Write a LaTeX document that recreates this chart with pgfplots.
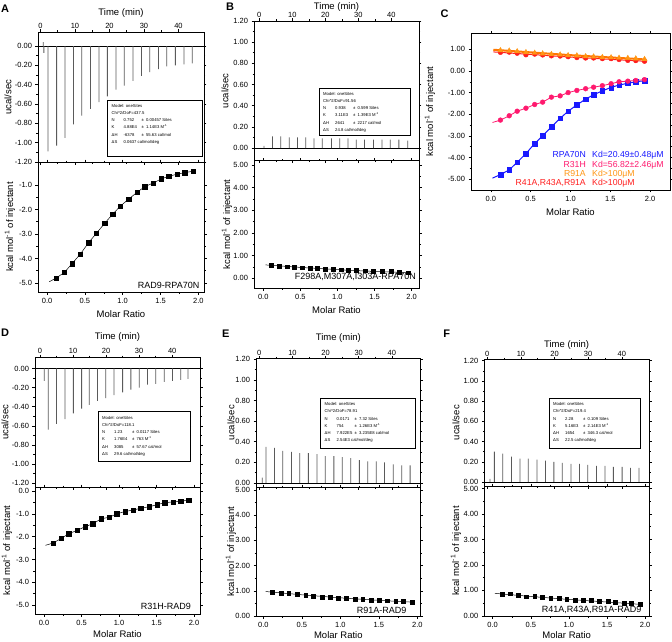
\documentclass[border=0pt]{standalone}
\usepackage{fontspec}
\setmainfont{Liberation Sans}
\usepackage{pgfplots}
\pgfplotsset{compat=1.18}

\definecolor{cblue}{RGB}{25,25,255}
\definecolor{cpink}{RGB}{255,25,110}
\definecolor{corange}{RGB}{255,120,0}
\definecolor{ctri}{RGB}{255,150,20}
\definecolor{cred}{RGB}{255,30,30}
\definecolor{spk}{RGB}{90,90,90}

\pgfplotsset{
 base/.style={scale only axis, anchor=north west, clip=true,
  /pgf/number format/assume math mode=true,
  tick label style={font=\fontsize{7.5}{8}\selectfont},
  yticklabel style={inner ysep=0.5pt},
  label style={font=\fontsize{9.5}{11}\selectfont},
  tick align=outside, major tick length=2.5pt, minor tick length=1.5pt, minor tick num=1,
  axis line style={line width=0.7pt}, tick style={black, line width=0.5pt},
  scaled ticks=false},
 xl/.style={xlabel style={at={(axis description cs:0.5,#1)}, anchor=center}},
 yl/.style={ylabel style={at={(axis description cs:#1,0.5)}, anchor=center}},
 rawtop/.style={base, xtick={0,10,20,30,40}, xticklabel pos=right, xticklabel shift=-3pt, xlabel={Time (min)}, ylabel={ucal/sec},
  yticklabel style={/pgf/number format/fixed, /pgf/number format/fixed zerofill, /pgf/number format/precision=2}},
 intbot/.style={base, xtick={0,0.5,1,1.5,2}, xlabel={Molar Ratio}, ylabel={kcal mol\textsuperscript{-1} of injectant},
  xticklabel style={/pgf/number format/fixed, /pgf/number format/fixed zerofill, /pgf/number format/precision=1}},
 yp1/.style={yticklabel style={/pgf/number format/fixed, /pgf/number format/fixed zerofill, /pgf/number format/precision=1}},
 yp2/.style={yticklabel style={/pgf/number format/fixed, /pgf/number format/fixed zerofill, /pgf/number format/precision=2}},
 spike/.style={ybar, bar width=0.8pt, fill=spk, draw=none},
 baseln/.style={black, line width=0.5pt},
 fitl/.style={black, line width=0.5pt},
 sq/.style={only marks, mark=square*, mark size=2.2pt, black},
}

\newcommand{\fittext}[8]{{\fontsize{4.2}{7.2}\selectfont\setlength{\tabcolsep}{0pt}%
\begin{tabular}{@{}p{12pt}p{18pt}l@{}}
\multicolumn{3}{@{}l@{}}{Model: oneSites}\\
\multicolumn{3}{@{}l@{}}{Chi\textasciicircum 2/DoF=#1}\\
N & #2 & ±\enspace #3 Sites\\
K & #4 & ±\enspace #5 M\textsuperscript{-1}\\
ΔH & #6 & ±\enspace #7 cal/mol\\
ΔS & \multicolumn{2}{@{}l@{}}{#8 cal/mol/deg}
\end{tabular}}}

\begin{document}
\begin{tikzpicture}
\useasboundingbox (0,0) rectangle (672pt,-642pt);

% ================= A =================
\begin{axis}[rawtop, xl=1.144, yl=-0.181, at={(38pt,-32pt)}, width=166pt, height=130pt,
  xmin=-0.7, xmax=47.4, ymin=-1.2, ymax=0.145, ytick={-1.2,-1.0,-0.8,-0.6,-0.4,-0.2,0}]
\addplot[baseln] coordinates {(-1,0) (48,0)};
\addplot[spike] coordinates {(0.8,0.04) (1.0,-0.07) (2.2,-1.09) (4.7,-1.03) (7.1,-0.95) (9.6,-0.81) (12.0,-0.72) (14.5,-0.65) (17.0,-0.58) (19.4,-0.52) (21.9,-0.45) (24.3,-0.41) (26.8,-0.36) (29.3,-0.31) (31.7,-0.27) (34.2,-0.24) (36.6,-0.21) (39.1,-0.20) (41.6,-0.19) (44.0,-0.18)};
\end{axis}
\begin{axis}[intbot, yp1, yl=-0.169, at={(38pt,-162pt)}, width=166pt, height=130pt,
  xmin=-0.12, xmax=2.075, ymin=-5.37, ymax=-0.06, ytick={-5,-4,-3,-2,-1}]
\addplot[fitl] coordinates {(0.03,-4.95) (0.12,-4.80) (0.23,-4.57) (0.33,-4.21) (0.44,-3.82) (0.55,-3.35) (0.65,-2.98) (0.76,-2.57) (0.87,-2.18) (0.97,-1.86) (1.08,-1.57) (1.19,-1.30) (1.29,-1.07) (1.40,-0.92) (1.51,-0.75) (1.61,-0.64) (1.72,-0.56) (1.82,-0.49) (1.93,-0.44)};
\addplot[sq] coordinates {(0.12,-4.80) (0.23,-4.57) (0.33,-4.21) (0.44,-3.82) (0.55,-3.35) (0.65,-2.98) (0.76,-2.57) (0.87,-2.18) (0.97,-1.86) (1.08,-1.57) (1.19,-1.30) (1.29,-1.07) (1.40,-0.92) (1.51,-0.75) (1.61,-0.64) (1.72,-0.56) (1.82,-0.49) (1.93,-0.44)};
\end{axis}
\draw[line width=0.5pt] (107.3pt,-100pt) rectangle (202.3pt,-156.7pt);
\node[anchor=north west, inner sep=0] at (111.5pt,-102pt) {\fittext{437.5}{0.752}{0.00457}{4.88E4}{1.14E3}{-6378}{55.63}{0.0637}};
\node[anchor=east, font=\fontsize{9}{10}\selectfont, inner sep=0] at (199.5pt,-285pt) {RAD9-RPA70N};

% ================= B =================
\begin{axis}[rawtop, xl=1.098, yl=-0.176, at={(254pt,-21pt)}, width=165pt, height=139.7pt,
  xmin=-1.6, xmax=48.4, ymin=-0.12, ymax=1.2, ytick={0,0.2,0.4,0.6,0.8,1.0,1.2}]
\addplot[baseln] coordinates {(-2,0) (49,0)};
\addplot[spike] coordinates {(1.4,0.02) (4.0,0.11) (6.5,0.11) (9.1,0.10) (11.6,0.10) (14.1,0.10) (16.6,0.09) (19.1,0.09) (21.9,0.09) (24.4,0.09) (26.9,0.09) (29.4,0.08) (31.9,0.08) (34.6,0.08) (37.2,0.08) (39.7,0.08) (42.3,0.08) (45.0,0.07)};
\end{axis}
\begin{axis}[intbot, yp2, yl=-0.164, at={(254pt,-160.7pt)}, width=165pt, height=127.3pt,
  xmin=-0.125, xmax=2.1, ymin=-0.43, ymax=5.19, ytick={0,1,2,3,4,5}]
\addplot[fitl] coordinates {(0.03,0.59) (0.5,0.48) (1.0,0.38) (1.5,0.30) (1.93,0.25)};
\addplot[sq, mark size=1.9pt] coordinates {(0.11,0.56) (0.22,0.54) (0.32,0.51) (0.42,0.49) (0.53,0.47) (0.63,0.46) (0.73,0.44) (0.84,0.41) (0.94,0.40) (1.05,0.38) (1.15,0.37) (1.25,0.34) (1.37,0.33) (1.48,0.32) (1.60,0.31) (1.72,0.30) (1.83,0.27) (1.95,0.25)};
\end{axis}
\draw[line width=0.5pt] (319.3pt,-88.3pt) rectangle (410pt,-135pt);
\node[anchor=north west, inner sep=0] at (323pt,-90pt) {\fittext{91.56}{0.938}{0.599}{3.11E3}{1.39E3}{2641}{2217}{24.8}};
\node[anchor=east, font=\fontsize{9}{10}\selectfont, inner sep=0] at (416pt,-276.5pt) {F298A,M307A,I303A-RPA70N};

% ================= C =================
\begin{axis}[base, yl=-0.206, at={(471pt,-33.3pt)}, width=199pt, height=156.7pt,
  xmin=-0.25, xmax=2.25, ymin=-5.5, ymax=1.74, xtick={0,0.5,1,1.5,2}, ytick={-5,-4,-3,-2,-1,0,1},
  xlabel={Molar Ratio}, ylabel={kcal mol\textsuperscript{-1} of injectant},
  xticklabel style={/pgf/number format/fixed, /pgf/number format/fixed zerofill, /pgf/number format/precision=1},
  yticklabel style={/pgf/number format/fixed, /pgf/number format/fixed zerofill, /pgf/number format/precision=2}]
\addplot[cblue, line width=1pt] coordinates {(0.02,-4.95) (0.12,-4.79) (0.23,-4.57) (0.33,-4.22) (0.44,-3.82) (0.55,-3.35) (0.65,-3.0) (0.76,-2.58) (0.87,-2.19) (0.97,-1.86) (1.08,-1.57) (1.19,-1.30) (1.29,-1.10) (1.40,-0.92) (1.51,-0.76) (1.61,-0.65) (1.72,-0.57) (1.82,-0.50) (1.93,-0.45)};
\addplot[only marks, mark=square*, mark size=2.3pt, cblue] coordinates {(0.12,-4.79) (0.23,-4.57) (0.33,-4.22) (0.44,-3.82) (0.55,-3.35) (0.65,-3.0) (0.76,-2.58) (0.87,-2.19) (0.97,-1.86) (1.08,-1.57) (1.19,-1.30) (1.29,-1.10) (1.40,-0.92) (1.51,-0.76) (1.61,-0.65) (1.72,-0.57) (1.82,-0.50) (1.93,-0.45)};
\addplot[cpink, line width=0.8pt] coordinates {(0.02,-2.38) (0.12,-2.27) (0.23,-2.07) (0.33,-1.86) (0.44,-1.72) (0.55,-1.55) (0.65,-1.44) (0.76,-1.21) (0.87,-1.15) (0.97,-1.00) (1.08,-0.90) (1.19,-0.82) (1.29,-0.75) (1.40,-0.68) (1.51,-0.59) (1.61,-0.50) (1.72,-0.47) (1.82,-0.44) (1.93,-0.40)};
\addplot[only marks, mark=*, mark size=2.4pt, cpink] coordinates {(0.12,-2.27) (0.23,-2.07) (0.33,-1.86) (0.44,-1.72) (0.55,-1.55) (0.65,-1.44) (0.76,-1.21) (0.87,-1.15) (0.97,-1.00) (1.08,-0.90) (1.19,-0.82) (1.29,-0.75) (1.40,-0.68) (1.51,-0.59) (1.61,-0.50) (1.72,-0.47) (1.82,-0.44) (1.93,-0.40)};
\addplot[cred, line width=1pt] coordinates {(0.03,0.88) (1.0,0.64) (1.93,0.45)};
\addplot[only marks, mark=*, mark size=2.4pt, cred] coordinates {(0.12,0.86) (0.23,0.87) (0.33,0.82) (0.44,0.75) (0.55,0.78) (0.65,0.74) (0.76,0.70) (0.87,0.69) (0.97,0.66) (1.08,0.62) (1.19,0.60) (1.29,0.60) (1.40,0.57) (1.51,0.57) (1.61,0.53) (1.72,0.49) (1.82,0.48) (1.93,0.45)};
\addplot[corange, line width=2pt] coordinates {(0.03,0.98) (1.0,0.73) (1.95,0.53)};
\addplot[only marks, mark=triangle*, mark size=3pt, ctri] coordinates {(0.12,0.95) (0.23,0.93) (0.33,0.90) (0.44,0.86) (0.55,0.83) (0.65,0.80) (0.76,0.77) (0.87,0.75) (0.97,0.72) (1.08,0.71) (1.19,0.67) (1.29,0.66) (1.40,0.63) (1.51,0.62) (1.61,0.60) (1.72,0.59) (1.82,0.57) (1.93,0.54)};
\end{axis}
\begin{scope}[font=\fontsize{8.7}{10}\selectfont]
\node[anchor=base east, text=cblue, inner sep=0] at (586pt,-157.5pt) {RPA70N};
\node[anchor=base west, text=cblue, inner sep=0] at (592pt,-157.5pt) {Kd=20.49±0.48μM};
\node[anchor=base east, text=cpink, inner sep=0] at (586pt,-167.5pt) {R31H};
\node[anchor=base west, text=cpink, inner sep=0] at (592pt,-167.5pt) {Kd=56.82±2.46μM};
\node[anchor=base east, text=ctri, inner sep=0] at (586pt,-176.8pt) {R91A};
\node[anchor=base west, text=ctri, inner sep=0] at (592pt,-176.8pt) {Kd>100μM};
\node[anchor=base east, text=cred, inner sep=0] at (586pt,-185.8pt) {R41A,R43A,R91A};
\node[anchor=base west, text=cred, inner sep=0] at (592pt,-185.8pt) {Kd>100μM};
\end{scope}

% ================= D =================
\begin{axis}[rawtop, xl=1.156, yl=-0.182, at={(35pt,-357pt)}, width=165pt, height=130pt,
  xmin=-1.5, xmax=48.4, ymin=-1.24, ymax=0.12, ytick={-1.2,-1.0,-0.8,-0.6,-0.4,-0.2,0}]
\addplot[baseln] coordinates {(-2,0) (49,0)};
\addplot[spike] coordinates {(1.3,-0.13) (2.5,-0.64) (5.0,-0.58) (7.6,-0.53) (10.1,-0.47) (12.6,-0.42) (14.9,-0.38) (17.4,-0.34) (19.9,-0.31) (22.4,-0.28) (25.0,-0.25) (27.5,-0.22) (30.0,-0.20) (32.5,-0.17) (35.0,-0.16) (37.6,-0.14) (40.1,-0.13) (42.6,-0.12) (44.8,-0.11)};
\end{axis}
\begin{axis}[intbot, yp1, yl=-0.17, xlabel style={yshift=2pt}, at={(35pt,-487pt)}, width=165pt, height=127pt,
  xmin=-0.12, xmax=2.08, ymin=-5.39, ymax=0.175, ytick={-5,-4,-3,-2,-1,0}]
\addplot[fitl] coordinates {(0.02,-2.38) (0.12,-2.28) (0.23,-2.08) (0.33,-1.87) (0.44,-1.73) (0.55,-1.56) (0.65,-1.44) (0.76,-1.22) (0.87,-1.15) (0.97,-1.00) (1.08,-0.90) (1.19,-0.83) (1.29,-0.76) (1.40,-0.69) (1.51,-0.60) (1.61,-0.51) (1.72,-0.48) (1.82,-0.45) (1.93,-0.40)};
\addplot[sq] coordinates {(0.12,-2.28) (0.23,-2.08) (0.33,-1.87) (0.44,-1.73) (0.55,-1.56) (0.65,-1.44) (0.76,-1.22) (0.87,-1.15) (0.97,-1.00) (1.08,-0.90) (1.19,-0.83) (1.29,-0.76) (1.40,-0.69) (1.51,-0.60) (1.61,-0.51) (1.72,-0.48) (1.82,-0.45) (1.93,-0.40)};
\end{axis}
\draw[line width=0.5pt] (98.3pt,-411.7pt) rectangle (190pt,-461.7pt);
\node[anchor=north west, inner sep=0] at (102pt,-414pt) {\fittext{118.1}{1.23}{0.0117}{1.76E4}{763}{3085}{57.67}{29.6}};
\node[anchor=east, font=\fontsize{9}{10}\selectfont, inner sep=0] at (191pt,-606pt) {R31H-RAD9};

% ================= E =================
\begin{axis}[rawtop, xl=1.155, yl=-0.152, at={(256pt,-358.3pt)}, width=164.7pt, height=128.7pt,
  xmin=-1.0, xmax=48.7, ymin=-0.04, ymax=1.21, ytick={0,0.2,0.4,0.6,0.8,1.0,1.2}]
\addplot[baseln] coordinates {(-2,0) (49,0)};
\addplot[spike] coordinates {(0.9,0.05) (2.0,0.35) (4.6,0.34) (7.1,0.31) (9.7,0.30) (12.2,0.29) (14.8,0.29) (17.4,0.28) (19.9,0.26) (22.5,0.26) (25.0,0.25) (27.6,0.24) (30.2,0.22) (32.7,0.21) (35.3,0.21) (37.8,0.20) (40.4,0.18) (43.0,0.17) (45.5,0.17)};
\end{axis}
\begin{axis}[intbot, yp2, yl=-0.152, xlabel style={yshift=3pt}, at={(256pt,-487pt)}, width=164.7pt, height=129.5pt,
  xmin=-0.095, xmax=2.044, ymin=-0.02, ymax=5.11, ytick={0,1,2,3,4,5}]
\addplot[fitl] coordinates {(0.03,0.97) (0.5,0.84) (1.0,0.72) (1.5,0.62) (1.93,0.55)};
\addplot[sq, mark size=1.9pt] coordinates {(0.12,0.93) (0.23,0.91) (0.33,0.89) (0.44,0.86) (0.55,0.83) (0.65,0.80) (0.76,0.76) (0.87,0.75) (0.97,0.72) (1.08,0.71) (1.19,0.67) (1.29,0.66) (1.40,0.63) (1.51,0.63) (1.61,0.61) (1.72,0.60) (1.82,0.58) (1.93,0.55)};
\end{axis}
\draw[line width=0.5pt] (320.7pt,-398.3pt) rectangle (415pt,-448.3pt);
\node[anchor=north west, inner sep=0] at (324.5pt,-400.5pt) {\fittext{78.91}{0.0171}{7.32}{754}{1.26E3}{7.922E5}{3.235E8}{2.54E3}};
\node[anchor=east, font=\fontsize{9}{10}\selectfont, inner sep=0] at (406.7pt,-610.7pt) {R91A-RAD9};

% ================= F =================
\begin{axis}[rawtop, xl=1.113, yl=-0.172, at={(484.3pt,-359.3pt)}, width=164.7pt, height=126.7pt,
  xmin=-0.9, xmax=48.1, ymin=-0.04, ymax=1.214, ytick={0,0.2,0.4,0.6,0.8,1.0,1.2}]
\addplot[baseln] coordinates {(-2,0) (49,0)};
\addplot[spike] coordinates {(0.8,0.03) (2.1,0.30) (4.6,0.28) (7.2,0.25) (9.7,0.23) (12.2,0.23) (14.8,0.22) (17.3,0.21) (19.8,0.20) (22.3,0.19) (24.9,0.18) (27.4,0.18) (29.9,0.17) (32.5,0.16) (35.0,0.16) (37.5,0.15) (40.1,0.15) (42.6,0.14) (45.1,0.14)};
\end{axis}
\begin{axis}[intbot, yp2, yl=-0.172, xlabel style={yshift=3pt}, at={(484.3pt,-486pt)}, width=164.7pt, height=130pt,
  xmin=-0.11, xmax=2.05, ymin=-0.01, ymax=5.1, ytick={0,1,2,3,4,5}]
\addplot[fitl] coordinates {(0.03,0.88) (0.5,0.76) (1.0,0.64) (1.5,0.54) (1.93,0.45)};
\addplot[sq, mark size=1.9pt] coordinates {(0.12,0.86) (0.23,0.87) (0.33,0.82) (0.44,0.75) (0.55,0.78) (0.65,0.74) (0.76,0.70) (0.87,0.69) (0.97,0.66) (1.08,0.62) (1.19,0.60) (1.29,0.60) (1.40,0.57) (1.51,0.57) (1.61,0.53) (1.72,0.49) (1.82,0.48) (1.93,0.45)};
\end{axis}
\draw[line width=0.5pt] (549.3pt,-398.3pt) rectangle (640pt,-448.3pt);
\node[anchor=north west, inner sep=0] at (553pt,-400.5pt) {\fittext{219.4}{2.28}{0.109}{5.16E3}{2.14E3}{1654}{346.3}{22.5}};
\node[anchor=east, font=\fontsize{9}{10}\selectfont, inner sep=0] at (641.7pt,-610pt) {R41A,R43A,R91A-RAD9};

% ================= panel letters =================
\begin{scope}[font=\bfseries\fontsize{11}{12}\selectfont]
\node at (5pt,-8.3pt) {A};
\node at (230pt,-6.5pt) {B};
\node at (444.5pt,-13.7pt) {C};
\node at (5pt,-332.5pt) {D};
\node at (225.8pt,-334.2pt) {E};
\node at (446.7pt,-334.2pt) {F};
\end{scope}
\end{tikzpicture}
\end{document}
